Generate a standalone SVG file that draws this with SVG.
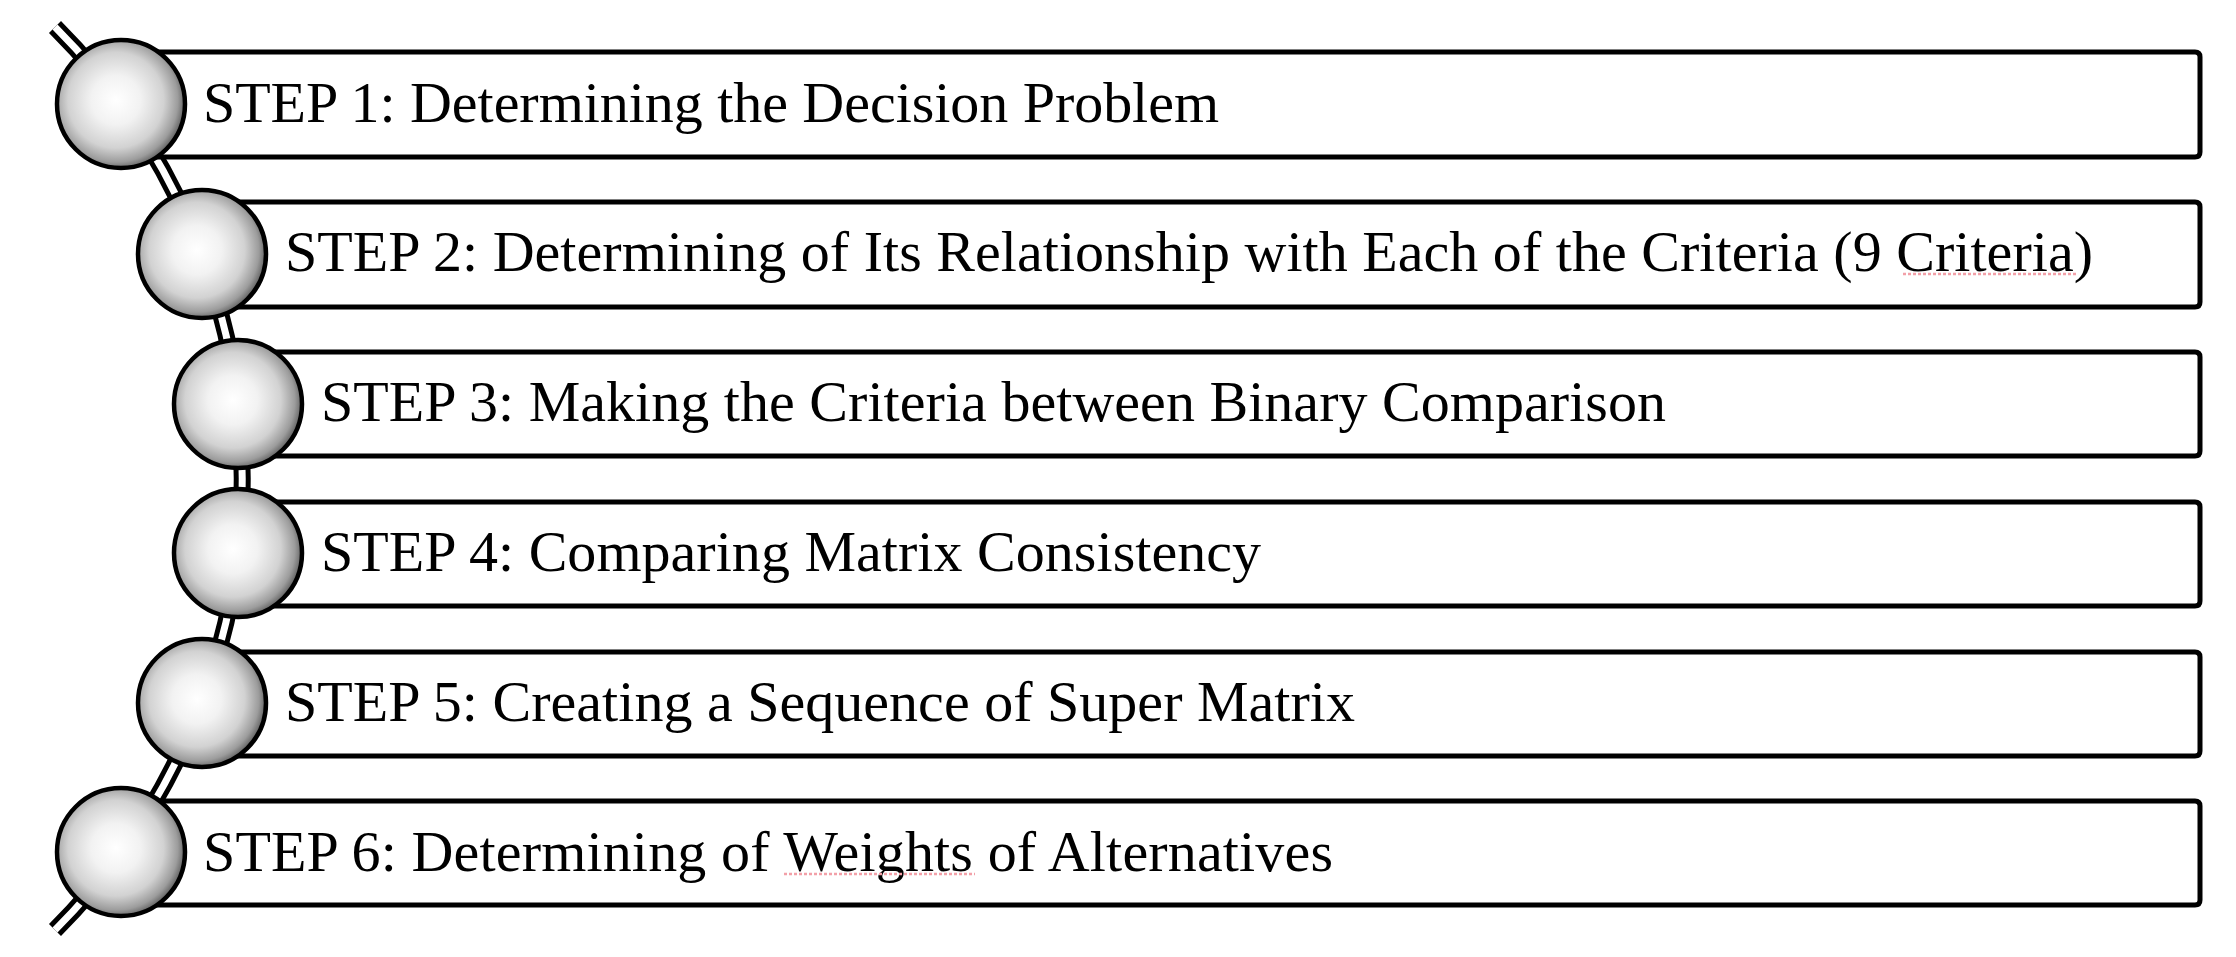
<svg xmlns="http://www.w3.org/2000/svg" width="2236" height="957" viewBox="0 0 2236 957">
<style>
.box{fill:#fff;stroke:#000;stroke-width:5}
.ball{fill:url(#g);stroke:#000;stroke-width:4.5}
.t{font-family:"Liberation Serif","Times New Roman",serif;font-size:58px;fill:#000}
.sq{stroke:#f2a0a8;stroke-width:2.5;stroke-dasharray:3 2;fill:none}
</style>
<defs>
<radialGradient id="g" cx="0.46" cy="0.47" r="0.55">
<stop offset="0" stop-color="#ffffff"/>
<stop offset="0.35" stop-color="#f2f2f2"/>
<stop offset="0.68" stop-color="#d2d2d2"/>
<stop offset="0.88" stop-color="#9c9c9c"/>
<stop offset="1" stop-color="#5a5a5a"/>
</radialGradient>
</defs>
<rect width="2236" height="957" fill="#fff"/>
<g id="connectors">
<path d="M55,27 A638,638 0 0 1 55,930" fill="none" stroke="#000" stroke-width="17"/>
<path d="M55,27 A638,638 0 0 1 55,930" fill="none" stroke="#fff" stroke-width="7"/>
</g>
<g id="step1">
<path class="box" d="M121,52 H2195 Q2200,52 2200,57 V152 Q2200,157 2195,157 H121 Z"/>
<circle class="ball" cx="121" cy="104" r="64"/>
<text class="t" x="203" y="122" textLength="1016" lengthAdjust="spacing">STEP 1: Determining the Decision Problem</text>
</g>
<g id="step2">
<path class="box" d="M202,202 H2195 Q2200,202 2200,207 V302 Q2200,307 2195,307 H202 Z"/>
<circle class="ball" cx="202" cy="254" r="64"/>
<text class="t" x="285" y="271" textLength="1808" lengthAdjust="spacing">STEP 2: Determining of Its Relationship with Each of the Criteria (9 Criteria)</text>
<path class="sq" d="M1903,274 H2077"/>
</g>
<g id="step3">
<path class="box" d="M238,352 H2195 Q2200,352 2200,357 V451 Q2200,456 2195,456 H238 Z"/>
<circle class="ball" cx="238" cy="404" r="64"/>
<text class="t" x="321" y="421" textLength="1345" lengthAdjust="spacing">STEP 3: Making the Criteria between Binary Comparison</text>
</g>
<g id="step4">
<path class="box" d="M238,502 H2195 Q2200,502 2200,507 V601 Q2200,606 2195,606 H238 Z"/>
<circle class="ball" cx="238" cy="553" r="64"/>
<text class="t" x="321" y="571" textLength="940" lengthAdjust="spacing">STEP 4: Comparing Matrix Consistency</text>
</g>
<g id="step5">
<path class="box" d="M202,652 H2195 Q2200,652 2200,657 V751 Q2200,756 2195,756 H202 Z"/>
<circle class="ball" cx="202" cy="703" r="64"/>
<text class="t" x="285" y="721" textLength="1070" lengthAdjust="spacing">STEP 5: Creating a Sequence of Super Matrix</text>
</g>
<g id="step6">
<path class="box" d="M121,801 H2195 Q2200,801 2200,806 V900 Q2200,905 2195,905 H121 Z"/>
<circle class="ball" cx="121" cy="852" r="64"/>
<text class="t" x="203" y="871" textLength="1130" lengthAdjust="spacing">STEP 6: Determining of Weights of Alternatives</text>
<path class="sq" d="M784,874 H975"/>
</g>
</svg>
